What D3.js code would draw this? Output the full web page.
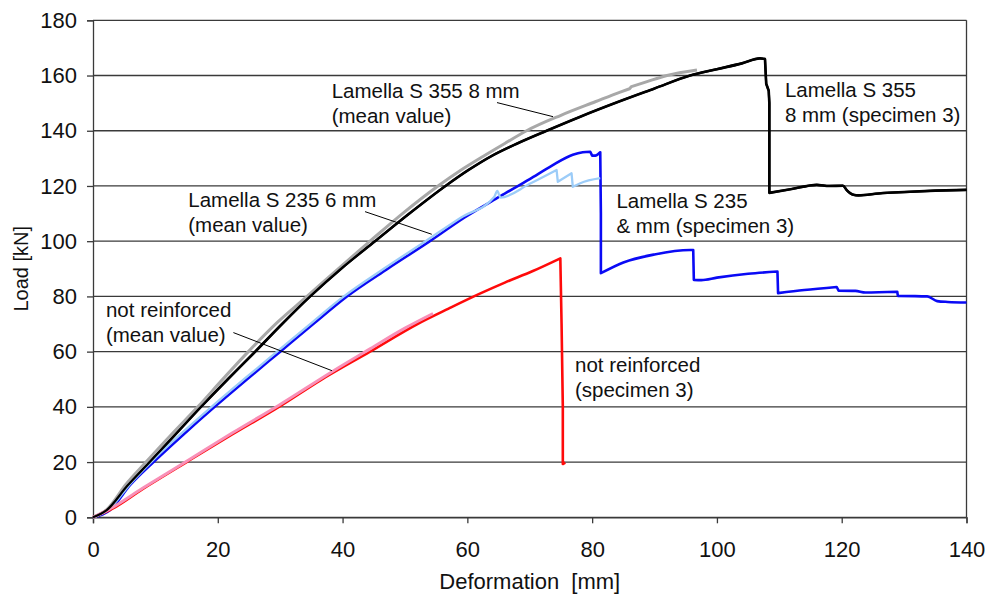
<!DOCTYPE html>
<html>
<head>
<meta charset="utf-8">
<script src="https://cdn.jsdelivr.net/npm/d3@7"></script>
<style>
  html, body { margin: 0; padding: 0; background: #fff; }
  svg { display: block; font-family: "Liberation Sans", Arial, sans-serif; }
</style>
</head>
<body>
<svg id="chart" width="989" height="596"></svg>
<script>
// ---------- data (deformation [mm], load [kN]) ----------
const xTicks = [0, 20, 40, 60, 80, 100, 120, 140];
const yTicks = [0, 20, 40, 60, 80, 100, 120, 140, 160, 180];

const s355Spec3 = [[0,0],[2.2,2.6],[5.5,11.4],[9.1,20],[13,29.5],[17.3,40],[21.6,50],[26,60],[30.3,70],[34.8,80],[40,90.5],[45.2,100],[50.7,110],[56.5,120],[60.2,125.8],[64,131],[68,135.4],[72.7,140],[78,145],[84,150.3],[90,155.3],[95.7,160],[100,162.3],[104,164.4],[106.9,166.2],[107.7,166],[107.9,157],[108.3,154.5],[108.4,150],[108.4,117.5],[112,118.9],[116,120.4],[118,120],[120.2,120.1],[120.8,118.5],[121.9,116.8],[122.7,116.6],[126,117.3],[130,117.8],[135,118.3],[140,118.6]];
const s355Mean = [[0,0],[2.2,2.8],[5.3,12],[8.5,20],[12.5,29.8],[16.8,40],[21,50.5],[24.9,60],[29.5,70.5],[34.3,80],[39.3,90],[44.4,100],[49.6,110],[55.3,120],[59,125.8],[62.5,130.7],[66,135.4],[69.5,140],[75,145.6],[80.5,150.5],[84.5,154],[86,155.2],[86.3,156],[88.8,157.8],[92,160],[96.8,162]];
const s235Spec3 = [[0,0],[2.7,2.6],[6,11.8],[9.7,20],[14.5,30],[19.5,40],[24.7,50],[30,60],[35.3,70],[40.7,80],[47.2,90],[54,100],[59.5,108.5],[65.3,116.3],[70,122.5],[73.5,127.3],[76.9,131.3],[78.5,132.2],[79.7,132.4],[80,131],[80.5,131],[81.3,132.2],[81.4,110],[81.4,88.4],[85,92.3],[90,95.2],[95.7,96.8],[96.2,96.8],[96.3,86],[97.5,85.9],[100,86.8],[105,88.2],[109.7,89],[109.8,81.2],[114,82.3],[119.2,83.4],[119.5,82.1],[122.2,82],[123.8,81.4],[128.9,81.7],[129,80.2],[133.7,80],[135.3,78.3],[137,78],[140,77.8]];
const s235Mean = [[0,0],[2.5,2.8],[6,12.2],[9.3,20],[14,30],[19,40],[24.2,50],[29.5,60],[34.8,70],[40.2,80],[46.6,90],[53.3,100],[59,108.6],[64.3,116],[64.8,118.2],[65.3,115.8],[70,120.8],[74.3,125.8],[74.5,121.5],[76.7,124.6],[76.9,119.7],[78.1,121],[81.3,122.8]];
const plainSpec3 = [[0,0],[2.7,2.6],[8,10.3],[15,20],[22.3,30],[29.8,40],[36.5,49.7],[44.4,60],[52,70],[57,75.6],[62,81],[66,85],[70.5,89.2],[74.9,93.8],[75.1,70],[75.3,40],[75.3,19.3],[75.7,19.8]];
const plainMean = [[0,0],[2.5,2.8],[8,10.6],[15,20.3],[22.3,30.5],[29.8,40.6],[38.5,53],[44.4,61],[50,68.5],[54.5,73.8]];

const labelLines = [
  ["Lamella S 355 8 mm", "(mean value)"],
  ["Lamella S 235 6 mm", "(mean value)"],
  ["not reinforced", "(mean value)"],
  ["Lamella S 355", "8 mm (specimen 3)"],
  ["Lamella S 235", "& mm (specimen 3)"],
  ["not reinforced", "(specimen 3)"]
];
// anchor of each label in data units (deformation, load)
const labelAnchors = [[38.25,152.0],[15.27,112.5],[2.08,72.65],[110.9,152.3],[83.9,111.9],[77.25,52.7]];
// leader lines in data units
const leaders = [
  [[64.75,150.2],[73.73,145.1]],
  [[43.6,110.7],[54.3,102.5]],
  [[22.5,66.9],[38.3,53.1]]
];

// ---------- layout ----------
const W = 989, H = 596;
const margin = {left: 93, right: 22.5, top: 20.3, bottom: 78.7};
const svg = d3.select("#chart");
const x = d3.scaleLinear().domain([0, 140]).range([margin.left, W - margin.right]);
const y = d3.scaleLinear().domain([0, 180]).range([H - margin.bottom, margin.top]);
const gridColor = "#3a3a3a";

// gridlines
svg.append("g").selectAll("line").data(yTicks).join("line")
  .attr("x1", x(0)).attr("x2", x(140))
  .attr("y1", d => y(d)).attr("y2", d => y(d))
  .attr("stroke", gridColor).attr("stroke-width", 1.3);

// right frame
svg.append("line").attr("x1", x(140)).attr("x2", x(140))
  .attr("y1", y(180)).attr("y2", y(0))
  .attr("stroke", gridColor).attr("stroke-width", 1.3);

// axes
const xAxis = d3.axisBottom(x).tickValues(xTicks).tickSize(6).tickPadding(18).tickFormat(d3.format("d"));
const yAxis = d3.axisLeft(y).tickValues(yTicks).tickSize(6).tickPadding(10).tickFormat(d3.format("d"));
const gx = svg.append("g").attr("transform", `translate(0,${y(0)})`).call(xAxis);
const gy = svg.append("g").attr("transform", `translate(${x(0)},0)`).call(yAxis);
[gx, gy].forEach(g => {
  g.select(".domain").attr("stroke", gridColor).attr("stroke-width", 1.3);
  g.selectAll(".tick line").attr("stroke", gridColor).attr("stroke-width", 1.3);
  g.selectAll(".tick text").attr("fill", "#111").style("font-size", "22px")
    .style("font-family", '"Liberation Sans", Arial, sans-serif');
});

// axis titles
svg.append("text").attr("x", (x(0) + x(140)) / 2).attr("y", 589)
  .attr("text-anchor", "middle").style("font-size", "22px").attr("fill", "#111")
  .style("white-space", "pre").text("Deformation  [mm]");
svg.append("text").attr("transform", `translate(28,${(y(0) + y(180)) / 2}) rotate(-90)`)
  .attr("text-anchor", "middle").style("font-size", "20px").attr("fill", "#111")
  .text("Load [kN]");

// curves: smooth (monotone) within runs, straight across vertical drops
function smoothPath(pts) {
  const segs = [];
  let cur = [pts[0]];
  for (let i = 1; i < pts.length; i++) {
    if (pts[i][0] - pts[i - 1][0] < 0.3) { segs.push(cur); cur = [pts[i - 1], pts[i]]; segs.push(cur); cur = [pts[i]]; }
    else cur.push(pts[i]);
  }
  segs.push(cur);
  const gen = d3.line().x(d => x(d[0])).y(d => y(d[1])).curve(d3.curveMonotoneX);
  const lin = d3.line().x(d => x(d[0])).y(d => y(d[1]));
  let out = "";
  segs.forEach((s, k) => {
    if (s.length < 2) return;
    const vertical = s.length === 2 && s[1][0] - s[0][0] < 0.3;
    let p = vertical ? lin(s) : gen(s);
    if (out !== "") p = "L" + p.slice(1);
    out += p;
  });
  return out;
}
const series = [
  {data: s355Spec3, color: "#000000", w: 2.6},
  {data: s235Spec3, color: "#0a0af5", w: 2.6},
  {data: plainSpec3, color: "#ff0a0a", w: 2.6},
  {data: s355Mean, color: "#a8a8a8", w: 3},
  {data: s235Mean, color: "#9cccf8", w: 2.3},
  {data: plainMean, color: "#f890b8", w: 3}
];
svg.append("g").selectAll("path").data(series).join("path")
  .attr("d", d => smoothPath(d.data))
  .attr("fill", "none")
  .attr("stroke", d => d.color)
  .attr("stroke-width", d => d.w)
  .attr("stroke-linejoin", "round");
// black specimen curve drawn over the grey mean where they overlap
svg.append("path").attr("d", smoothPath(s355Spec3)).attr("fill", "none").attr("stroke", "#000").attr("stroke-width", 2.2).attr("stroke-linejoin", "round");

// leaders
svg.append("g").selectAll("line").data(leaders).join("line")
  .attr("x1", d => x(d[0][0])).attr("y1", d => y(d[0][1]))
  .attr("x2", d => x(d[1][0])).attr("y2", d => y(d[1][1]))
  .attr("stroke", "#000").attr("stroke-width", 1);

// labels
const lg = svg.append("g");
labelLines.forEach((lines, i) => {
  const t = lg.append("text")
    .attr("x", x(labelAnchors[i][0])).attr("y", y(labelAnchors[i][1]))
    .style("font-size", "20.5px").attr("fill", "#111");
  lines.forEach((s, j) => {
    t.append("tspan").attr("x", x(labelAnchors[i][0])).attr("dy", j === 0 ? 0 : 25).text(s);
  });
});
</script>
</body>
</html>
